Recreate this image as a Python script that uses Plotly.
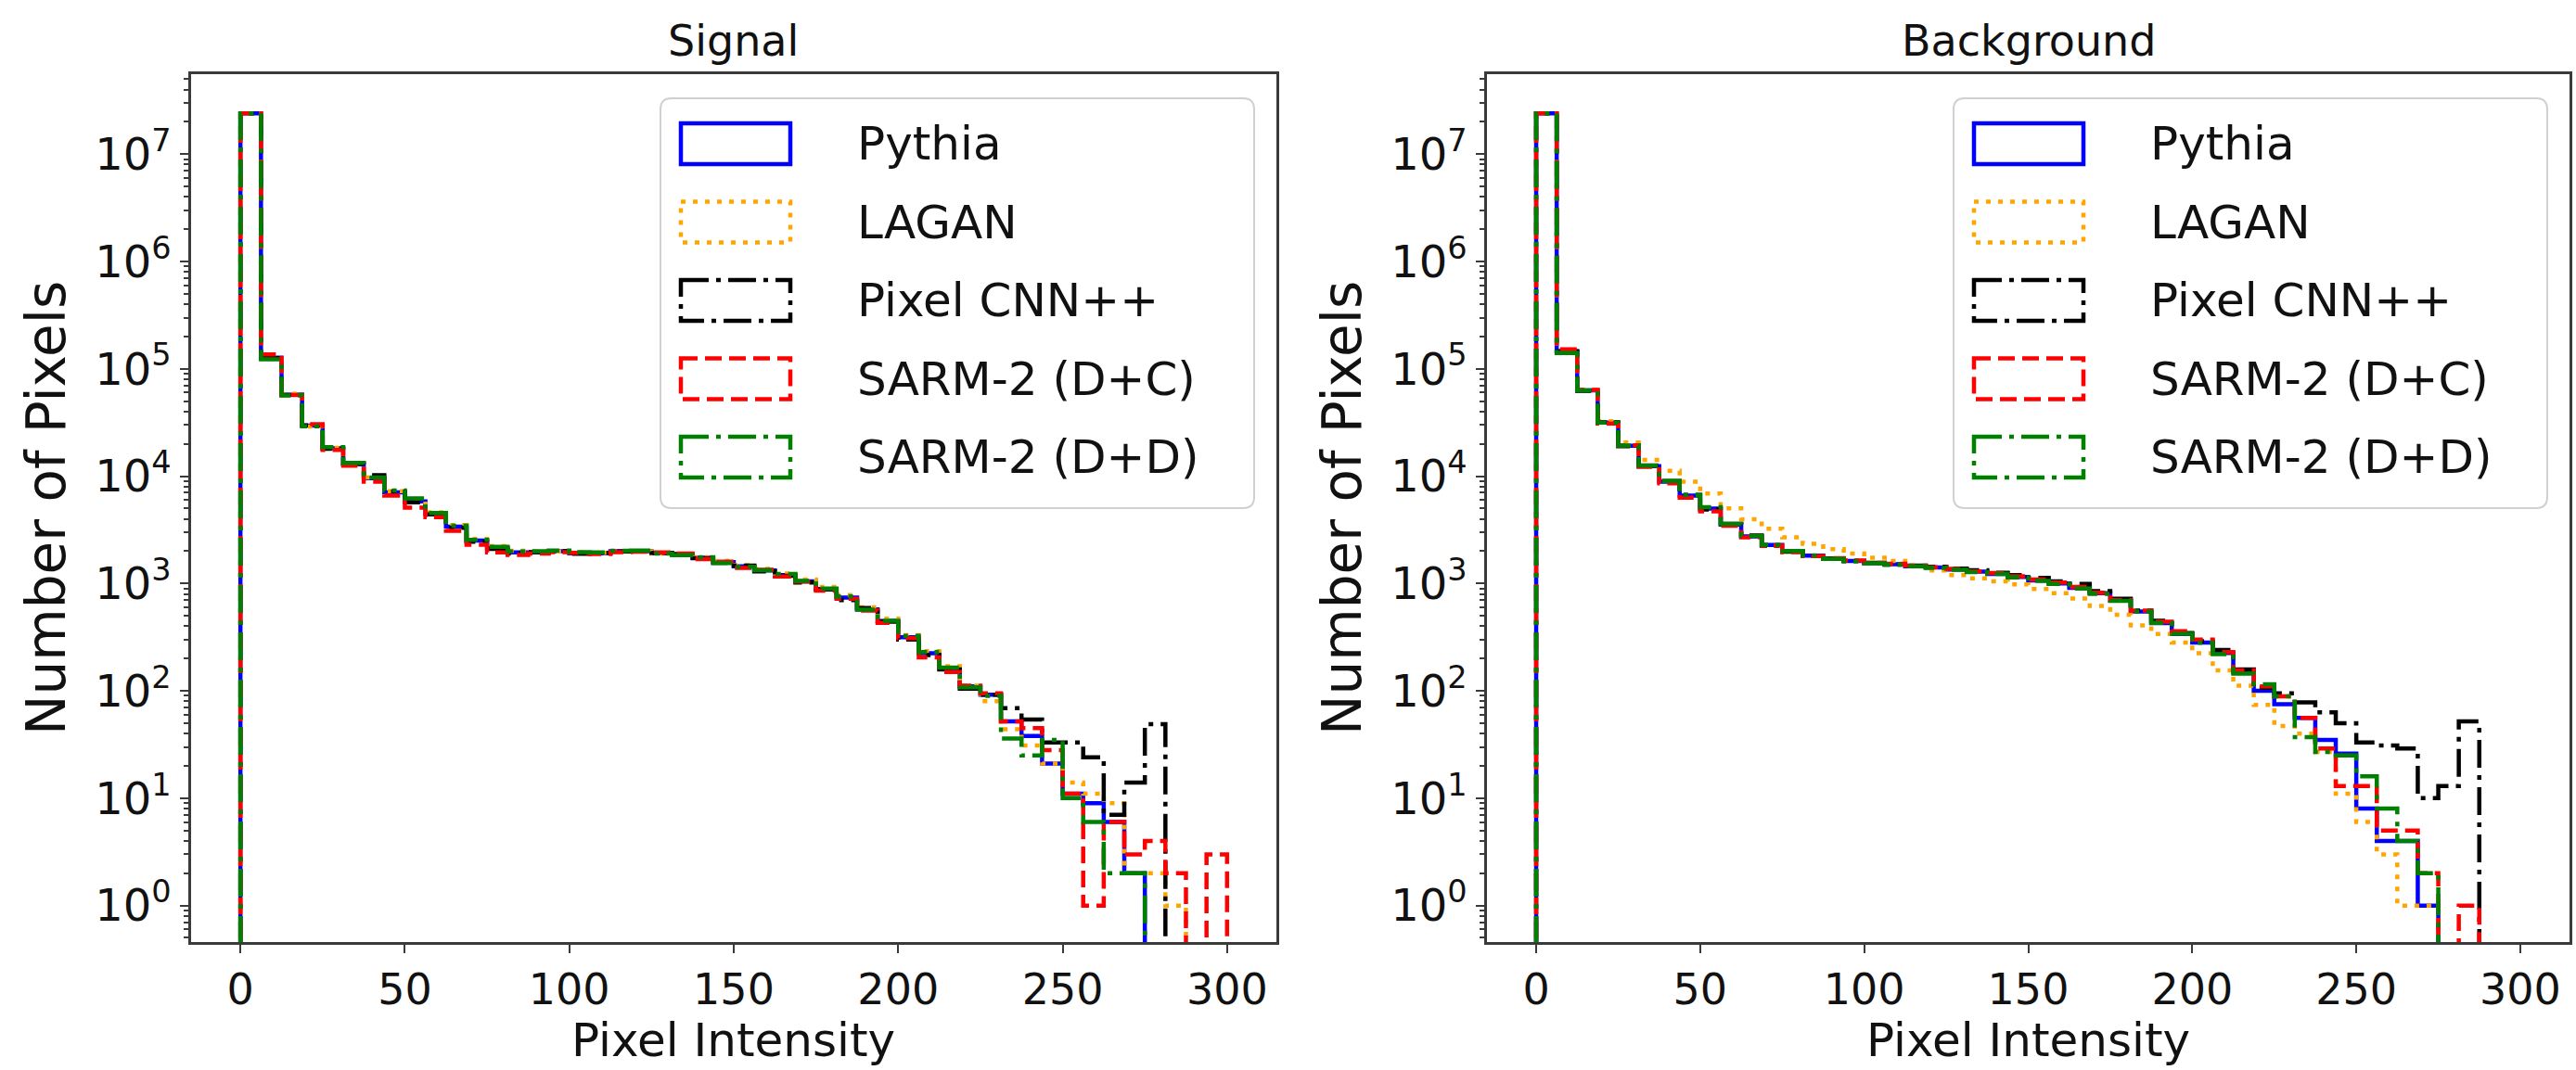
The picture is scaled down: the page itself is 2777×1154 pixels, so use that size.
import plotly.graph_objects as go

# ---------------- data ----------------
BIN_WIDTH = 6.25          # pixel-intensity bin width
N_BINS = 48               # bins cover 0 .. 300
BIN_EDGES = [i * BIN_WIDTH for i in range(N_BINS + 1)]

SERIES = ["Pythia", "LAGAN", "Pixel CNN++", "SARM-2 (D+C)", "SARM-2 (D+D)"]
PANELS = ["Signal", "Background"]

SIG_PYTHIA = [24000000, 127000, 57400, 29600, 18200, 12900, 9550, 7080, 5810, 4460,
              3390, 2510, 2140, 1950, 1950, 2000, 1910, 1910, 2000, 2000,
              1910, 1860, 1740, 1580, 1450, 1320, 1200, 1050, 890, 740,
              575, 447, 316, 224, 162, 110, 92, 52, 38, 21,
              11, 9, 6, 2, 0, 0, 0, 0]
SIG_LAGAN = [24000000, 124000, 58500, 29000, 18400, 13100, 9700, 7250, 5900, 4600,
             3500, 2600, 2230, 2020, 1990, 1990, 1950, 1930, 1980, 1990,
             1900, 1880, 1760, 1620, 1480, 1370, 1240, 1090, 930, 780,
             600, 470, 330, 235, 170, 112, 80, 44, 31, 21,
             14, 11, 9, 2, 2, 1, 0, 0]
SIG_PIXELCNN = [24000000, 126000, 57000, 29800, 18000, 13100, 10200, 7200, 5700, 4400,
                3300, 2450, 2100, 1900, 1960, 2010, 1890, 1930, 1990, 2010,
                1930, 1880, 1720, 1560, 1470, 1300, 1180, 1020, 880, 700,
                590, 440, 300, 215, 158, 105, 92, 69, 54, 33,
                33, 24, 7, 14, 49, 0, 0, 0]
SIG_SARM_DC = [24000000, 136000, 57000, 30500, 17600, 12500, 8900, 6600, 5100, 4150,
               3100, 2300, 1950, 1850, 1900, 1960, 1930, 1880, 1960, 1980,
               1950, 1900, 1690, 1600, 1400, 1340, 1160, 1040, 860, 720,
               560, 430, 310, 205, 150, 112, 95, 52, 45, 28,
               11, 1, 6, 3, 4, 2, 0, 3]
SIG_SARM_DD = [24000000, 123000, 56500, 29200, 18600, 13300, 9700, 7350, 6200, 4550,
               3450, 2550, 2200, 1990, 2000, 2030, 1960, 1950, 2020, 2030,
               1900, 1840, 1760, 1550, 1430, 1330, 1230, 1060, 900, 760,
               570, 450, 325, 230, 165, 108, 90, 36, 25, 35,
               10, 6, 2, 2, 0, 0, 0, 0]

BKG_PYTHIA = [24000000, 146000, 63100, 31600, 19200, 12400, 8900, 6600, 5000, 3550,
              2750, 2290, 2000, 1820, 1700, 1620, 1550, 1510, 1450, 1410,
              1350, 1290, 1230, 1150, 1070, 1000, 912, 813, 692, 550,
              427, 339, 282, 225, 150, 100, 75, 56, 35, 26,
              8, 4, 4, 1, 0, 0, 0, 0]
BKG_LAGAN = [24000000, 144000, 64000, 32500, 20600, 14200, 11200, 8900, 6900, 5020,
             3970, 3240, 2700, 2340, 2090, 1900, 1740, 1620, 1450, 1320,
             1200, 1120, 1050, 980, 890, 813, 724, 617, 513, 408,
             339, 282, 224, 155, 112, 74, 47, 40, 27, 11,
             6, 3, 1, 1, 0, 0, 0, 0]
BKG_PIXELCNN = [24000000, 145000, 62500, 31800, 19000, 12600, 9000, 6700, 4900, 3600,
                2800, 2250, 1980, 1800, 1710, 1630, 1560, 1500, 1470, 1430,
                1380, 1330, 1260, 1200, 1130, 1050, 990, 850, 720, 560,
                450, 345, 290, 240, 158, 107, 95, 78, 63, 50,
                33, 31, 29, 10, 13, 52, 0, 0]
BKG_SARM_DC = [24000000, 152000, 63500, 31000, 19400, 12200, 8600, 6300, 4700, 3450,
               2700, 2250, 1960, 1800, 1720, 1640, 1560, 1530, 1470, 1420,
               1370, 1300, 1250, 1170, 1090, 1020, 930, 820, 700, 560,
               440, 360, 300, 230, 155, 110, 89, 56, 29, 13,
               13, 5, 5, 2, 0, 1, 0, 0]
BKG_SARM_DD = [24000000, 140000, 63000, 31500, 19300, 12500, 9000, 6700, 5150, 3600,
               2780, 2300, 2010, 1830, 1700, 1610, 1540, 1500, 1450, 1400,
               1340, 1280, 1230, 1140, 1060, 990, 900, 800, 690, 550,
               430, 340, 280, 220, 145, 115, 89, 37, 27, 25,
               16, 8, 4, 2, 0, 0, 0, 0]

X_TICKS = [0, 50, 100, 150, 200, 250, 300]
Y_TICK_EXP = [0, 1, 2, 3, 4, 5, 6, 7]

PANEL_DATA = {
    "Signal": [SIG_PYTHIA, SIG_LAGAN, SIG_PIXELCNN, SIG_SARM_DC, SIG_SARM_DD],
    "Background": [BKG_PYTHIA, BKG_LAGAN, BKG_PIXELCNN, BKG_SARM_DC, BKG_SARM_DD],
}

# ---------------- styles ----------------
W, H = 2777, 1154
FONT = "DejaVu Sans"
TXT = "#111111"
COLORS = ["#0000ff", "#ffa500", "#000000", "#ff0000", "#008000"]
DASHES = ["solid", "5px,8px", "30px,8px,5px,8px", "18px,8px", "30px,8px,5px,8px"]
LW = 4.5
AX_PX = [(206, 1376), (1603, 2770)]   # horizontal pixel extent of each axes box
AX_TOP, AX_BOT = 80, 1016
X_RANGE = [-15, 315]
Y_RANGE = [-0.34, 7.745]
FLOOR = 1e-3   # zero-count bins are drawn down to below the axis, as matplotlib does


def px(x):
    return x / W


def py(y):
    return 1 - y / H


def step_xy(counts):
    ys = [c if c > 0 else FLOOR for c in counts]
    xs = [BIN_EDGES[0]] + BIN_EDGES[:-1] + [BIN_EDGES[-1]]
    return xs, [FLOOR] + ys + [FLOOR]


fig = go.Figure()
shapes, annots = [], []

for p, panel in enumerate(PANELS):
    xa = "x" if p == 0 else "x2"
    ya = "y" if p == 0 else "y2"
    for s, name in enumerate(SERIES):
        xs, ys = step_xy(PANEL_DATA[panel][s])
        fig.add_trace(go.Scatter(
            x=xs, y=ys, mode="lines", line_shape="hv", name=name,
            line=dict(color=COLORS[s], width=LW, dash=DASHES[s]),
            xaxis=xa, yaxis=ya, showlegend=False, hoverinfo="skip"))

    L, R = AX_PX[p]
    axis_common = dict(showline=True, mirror=True, linecolor="#3a3a3a", linewidth=2.5,
                       ticks="outside", ticklen=9, tickwidth=2, tickcolor="#3a3a3a",
                       showgrid=False, zeroline=False, automargin=False,
                       tickfont=dict(family=FONT, size=46, color=TXT))
    xkey = "xaxis" if p == 0 else "xaxis2"
    ykey = "yaxis" if p == 0 else "yaxis2"
    fig.update_layout({
        xkey: dict(axis_common, domain=[px(L), px(R)], range=X_RANGE,
                   tickmode="array", tickvals=X_TICKS,
                   ticktext=[str(v) for v in X_TICKS], anchor=ya),
        ykey: dict(axis_common, domain=[py(AX_BOT), py(AX_TOP)], type="log",
                   range=Y_RANGE, anchor=xa, tickmode="array",
                   tickvals=[10 ** e for e in Y_TICK_EXP],
                   ticktext=["10<sup>%d</sup>" % e for e in Y_TICK_EXP],
                   tickfont=dict(family=FONT, size=48, color=TXT),
                   minor=dict(ticks="outside", ticklen=5, tickwidth=1.5,
                              tickcolor="#3a3a3a", tickmode="array",
                              tickvals=[m * 10 ** e for e in range(-1, 8) for m in range(2, 10)])),
    })

    cx = (L + R) / 2
    # panel title
    annots.append(dict(text=panel, x=px(cx), y=py(44), xref="paper", yref="paper",
                       showarrow=False, xanchor="center", yanchor="middle",
                       font=dict(family=FONT, size=46, color=TXT)))
    # axis titles
    annots.append(dict(text="Pixel Intensity", x=px(cx), y=py(1122), xref="paper", yref="paper",
                       showarrow=False, xanchor="center", yanchor="middle",
                       font=dict(family=FONT, size=50, color=TXT)))
    annots.append(dict(text="Number of Pixels", x=px(L - 156), y=py((AX_TOP + AX_BOT) / 2),
                       xref="paper", yref="paper", textangle=-90,
                       showarrow=False, xanchor="center", yanchor="middle",
                       font=dict(family=FONT, size=58, color=TXT)))

    # legend drawn as in matplotlib: rectangle patches with the line styles
    bR = R - 24
    bL = bR - 640
    bT, bB = 106, 548
    r = 12
    path = ("M {a},{b} L {c},{b} Q {d},{b} {d},{e} L {d},{f} Q {d},{g} {c},{g} "
            "L {a},{g} Q {h},{g} {h},{f} L {h},{e} Q {h},{b} {a},{b} Z").format(
        a=px(bL + r), b=py(bT), c=px(bR - r), d=px(bR), e=py(bT + r),
        f=py(bB - r), g=py(bB), h=px(bL))
    shapes.append(dict(type="path", path=path, xref="paper", yref="paper",
                       line=dict(color="#d0d0d0", width=2),
                       fillcolor="rgba(255,255,255,0.8)", layer="above"))
    for s, name in enumerate(SERIES):
        rc = 155 + 84.5 * s
        shapes.append(dict(type="rect", xref="paper", yref="paper",
                           x0=px(bL + 22), x1=px(bL + 140), y0=py(rc - 22), y1=py(rc + 22),
                           line=dict(color=COLORS[s], width=LW, dash=DASHES[s]),
                           fillcolor="rgba(0,0,0,0)", layer="above"))
        annots.append(dict(text=name, x=px(bL + 210), y=py(rc), xref="paper", yref="paper",
                           showarrow=False, xanchor="left", yanchor="middle",
                           font=dict(family=FONT, size=50, color=TXT)))

fig.update_layout(width=W, height=H, margin=dict(l=0, r=0, t=0, b=0),
                  template="none", paper_bgcolor="white", plot_bgcolor="white",
                  showlegend=False, shapes=shapes, annotations=annots,
                  font=dict(family=FONT))

fig.write_html("out.html")
